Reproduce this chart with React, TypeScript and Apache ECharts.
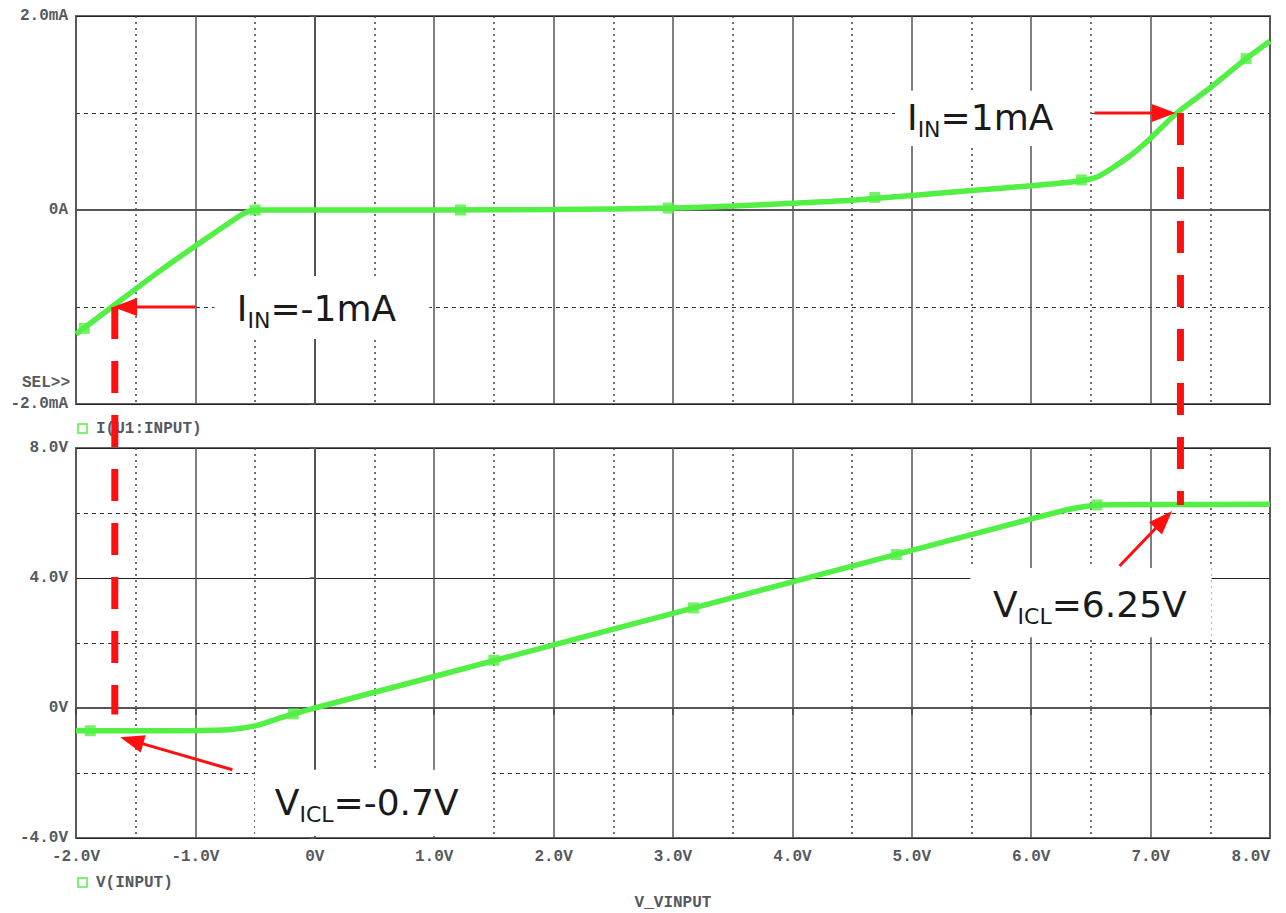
import React, { useEffect, useRef } from "react";
import * as echarts from "echarts";

// ---- data ----
const sweepMin = -2;
const sweepMax = 8;

// Top: I(U1:INPUT) in mA vs V_VINPUT
const iSweep = [-2.0, -1.7, -1.3, -1.0, -0.75, -0.6, -0.5, -0.3, 0, 1, 2, 3, 3.5, 4, 4.5, 5, 5.5, 6, 6.4, 6.55, 6.7, 6.85, 7.0, 7.22, 7.5, 7.8, 8.0];
const iInput = [-1.28, -1.0, -0.63, -0.37, -0.16, -0.04, 0, 0, 0, 0, 0.005, 0.02, 0.04, 0.07, 0.1, 0.15, 0.2, 0.25, 0.3, 0.34, 0.45, 0.58, 0.74, 1.0, 1.26, 1.56, 1.74];
const iMarkV = [-1.93, -0.5, 1.22, 2.96, 4.69, 6.42, 7.8];
const iMarkI = [-1.22, 0, 0, 0.02, 0.13, 0.31, 1.56];

// Bottom: V(INPUT) in V vs V_VINPUT
const vSweep = [-2.0, -1.5, -1.0, -0.7, -0.5, -0.35, -0.18, 0, 1, 2, 3, 4, 5, 6, 6.3, 6.45, 6.6, 7.0, 8.0];
const vInput = [-0.7, -0.7, -0.69, -0.66, -0.55, -0.38, -0.18, 0, 0.97, 1.94, 2.91, 3.88, 4.85, 5.82, 6.1, 6.2, 6.25, 6.26, 6.27];
const vMarkV = [-1.88, -0.18, 1.5, 3.17, 4.87, 6.55];
const vMarkVal = [-0.7, -0.18, 1.47, 3.08, 4.72, 6.25];

// tick labels
const iTicks = [-2, 0, 2];
const vTicks = [-4, 0, 4, 8];

// annotations (data coordinates)
const negCurrentV = -1.675;
const negCurrent = -1;
const negClampEndV = -0.2;
const posCurrentV = 7.25;
const posCurrent = 1;
const posClamp = 6.25;

const GREEN = "#52ef45";
const RED = "#ff1010";
const MONO = "'Liberation Mono', 'DejaVu Sans Mono', monospace";
const SANS = "'DejaVu Sans', Verdana, sans-serif";
const LABEL_COLOR = "#555a60";

const fmtV = (v: number) => (v === 0 ? "0V" : v.toFixed(1) + "V");
const fmtI = (v: number) => (v === 0 ? "0A" : v.toFixed(1) + "mA");

export default function App() {
  const ref = useRef<HTMLDivElement>(null);

  useEffect(() => {
    if (!ref.current) return;
    const chart = echarts.init(ref.current, undefined, { renderer: "svg" });

    const xAxisBase = (gridIndex: number, showLabels: boolean) => ({
      type: "value",
      gridIndex,
      min: sweepMin,
      max: sweepMax,
      interval: 1,
      axisLine: { show: true, lineStyle: { color: "#555", width: 2 } },
      axisTick: { show: showLabels, length: 7, lineStyle: { color: "#444", width: 1.5 } },
      minorTick: { show: showLabels, splitNumber: 2, length: 3, lineStyle: { color: "#444", width: 1.5 } },
      axisLabel: {
        show: showLabels,
        formatter: fmtV,
        fontFamily: MONO,
        fontSize: 16,
        fontWeight: "bold",
        color: LABEL_COLOR,
        margin: 11,
        alignMaxLabel: "right",
      },
      splitLine: { show: true, lineStyle: { color: "#555", width: 1.5 } },
      minorSplitLine: { show: true, lineStyle: { color: "#444", width: 1.5, type: [2, 4] } },
    });

    const yAxisBase = (gridIndex: number, min: number, max: number, interval: number, fmt: (v: number) => string, ticks: number[]) => ({
      type: "value",
      gridIndex,
      min,
      max,
      interval,
      axisLine: { show: true, lineStyle: { color: "#555", width: 2 } },
      axisTick: { show: true, length: 5, lineStyle: { color: "#555", width: 1.5 } },
      minorTick: { show: false, splitNumber: 2 },
      axisLabel: {
        formatter: (v: number) => (ticks.indexOf(v) >= 0 ? fmt(v) : ""),
        fontFamily: MONO,
        fontSize: 16,
        fontWeight: "bold",
        color: LABEL_COLOR,
        margin: 8,
      },
      splitLine: { show: true, lineStyle: { color: "#222", width: 1 } },
      minorSplitLine: { show: true, lineStyle: { color: "#333", width: 1, type: [4, 4] } },
    });

    const option: any = {
      animation: false,
      backgroundColor: "#ffffff",
      grid: [
        { left: 76, right: 16, top: 16, height: 388, show: true, borderColor: "#666", borderWidth: 2, outerBoundsMode: "none" },
        { left: 76, right: 16, top: 448, height: 390, show: true, borderColor: "#666", borderWidth: 2, outerBoundsMode: "none" },
      ],
      xAxis: [xAxisBase(0, false), xAxisBase(1, true)],
      yAxis: [
        yAxisBase(0, -2, 2, 2, fmtI, iTicks),
        yAxisBase(1, -4, 8, 4, fmtV, vTicks),
      ],
      series: [
        {
          type: "line",
          xAxisIndex: 0,
          yAxisIndex: 0,
          data: iSweep.map((x, i) => [x, iInput[i]]),
          showSymbol: false,
          smooth: 0.25,
          lineStyle: { color: GREEN, width: 5.5 },
          z: 3,
        },
        {
          type: "scatter",
          xAxisIndex: 0,
          yAxisIndex: 0,
          data: iMarkV.map((x, i) => [x, iMarkI[i]]),
          symbol: "rect",
          symbolSize: 11,
          itemStyle: { color: GREEN },
          z: 4,
        },
        {
          type: "line",
          xAxisIndex: 1,
          yAxisIndex: 1,
          data: vSweep.map((x, i) => [x, vInput[i]]),
          showSymbol: false,
          smooth: 0.25,
          lineStyle: { color: GREEN, width: 5.5 },
          z: 3,
        },
        {
          type: "scatter",
          xAxisIndex: 1,
          yAxisIndex: 1,
          data: vMarkV.map((x, i) => [x, vMarkVal[i]]),
          symbol: "rect",
          symbolSize: 11,
          itemStyle: { color: GREEN },
          z: 4,
        },
      ],
    };

    chart.setOption(option);

    const px = (g: number, x: number, y: number) => chart.convertToPixel({ gridIndex: g }, [x, y]) as number[];

    const box = (g: number, x0: number, x1: number, y0: number, y1: number) => {
      const a = px(g, x0, y0);
      const b = px(g, x1, y1);
      return {
        type: "rect",
        z: 10,
        shape: { x: Math.min(a[0], b[0]), y: Math.min(a[1], b[1]), width: Math.abs(b[0] - a[0]), height: Math.abs(b[1] - a[1]) },
        style: { fill: "#ffffff" },
      };
    };

    const arrow = (g: number, x0: number, y0: number, x1: number, y1: number) => {
      const p0 = px(g, x0, y0);
      const p1 = px(g, x1, y1);
      const dx = p1[0] - p0[0];
      const dy = p1[1] - p0[1];
      const len = Math.hypot(dx, dy);
      const ux = dx / len;
      const uy = dy / len;
      const hl = 24;
      const hw = 9;
      const bx = p1[0] - ux * hl;
      const by = p1[1] - uy * hl;
      return [
        { type: "line", z: 20, shape: { x1: p0[0], y1: p0[1], x2: bx + ux * 2, y2: by + uy * 2 }, style: { stroke: RED, lineWidth: 3 } },
        {
          type: "polygon",
          z: 20,
          shape: { points: [[p1[0], p1[1]], [bx - uy * hw, by + ux * hw], [bx + uy * hw, by - ux * hw]] },
          style: { fill: RED },
        },
      ];
    };

    const dashed = (xv: number, gTop: number, yTop: number, gBot: number, yBot: number) => {
      const a = px(gTop, xv, yTop);
      const b = px(gBot, xv, yBot);
      return {
        type: "line",
        z: 20,
        shape: { x1: a[0], y1: a[1], x2: b[0], y2: b[1] },
        style: { stroke: RED, lineWidth: 7, lineDash: [32, 22] },
      };
    };

    const richLabel = (g: number, x: number, y: number, main: string, sub: string, rest: string) => {
      const p = px(g, x, y);
      return {
        type: "text",
        z: 15,
        x: p[0],
        y: p[1],
        style: {
          text: `{m|${main}}{s|${sub}}{m|${rest}}`,
          align: "left",
          verticalAlign: "middle",
          rich: {
            m: { fontFamily: SANS, fontSize: 36, lineHeight: 46, fill: "#1a1a1a", verticalAlign: "middle" },
            s: { fontFamily: SANS, fontSize: 22, fill: "#1a1a1a", verticalAlign: "bottom" },
          },
        },
      };
    };

    const monoText = (x: number, y: number, text: string, align: string) => ({
      type: "text",
      z: 15,
      x,
      y,
      style: { text, fontFamily: MONO, fontSize: 16, fontWeight: "bold", fill: LABEL_COLOR, align, verticalAlign: "middle" },
    });

    const legendBox = (x: number, y: number) => ({
      type: "rect",
      z: 15,
      shape: { x, y, width: 9, height: 9 },
      style: { fill: "none", stroke: GREEN, lineWidth: 1.5 },
    });

    const topLeft = px(0, sweepMin, -2);
    const botLeft = px(1, sweepMin, -4);
    const botRight = px(1, sweepMax, -4);

    const graphic: any[] = [
      box(0, -0.84, 0.96, -0.68, -1.33),
      box(0, 4.86, 6.49, 1.23, 0.66),
      box(1, 5.49, 7.51, 4.31, 2.18),
      box(1, -0.5, 1.48, -1.9, -3.94),
      dashed(negCurrentV, 0, negCurrent, 1, negClampEndV),
      dashed(posCurrentV, 0, posCurrent, 1, posClamp),
      ...arrow(0, -1.0, negCurrent, -1.69, negCurrent),
      ...arrow(0, 6.53, posCurrent, 7.21, posCurrent),
      ...arrow(1, 6.74, 4.37, 7.18, 6.06),
      ...arrow(1, -0.69, -1.9, -1.63, -0.9),
      richLabel(0, -0.653, -1.02, "I", "IN", "=-1mA"),
      richLabel(0, 4.96, 0.95, "I", "IN", "=1mA"),
      richLabel(1, 5.68, 3.17, "V", "ICL", "=6.25V"),
      richLabel(1, -0.335, -2.92, "V", "ICL", "=-0.7V"),
      monoText(topLeft[0] - 6, topLeft[1] - 21, "SEL>>", "right"),
      legendBox(topLeft[0] + 2, topLeft[1] + 20),
      monoText(topLeft[0] + 20, topLeft[1] + 25, "I(U1:INPUT)", "left"),
      legendBox(botLeft[0] + 2, botLeft[1] + 40),
      monoText(botLeft[0] + 20, botLeft[1] + 45, "V(INPUT)", "left"),
      monoText((botLeft[0] + botRight[0]) / 2, botLeft[1] + 65, "V_VINPUT", "center"),
    ];

    chart.setOption({ graphic });

    return () => {
      chart.dispose();
    };
  }, []);

  return (
    <div
      ref={ref}
      style={{ position: "fixed", left: 0, top: 0, width: 1286, height: 913, background: "#fff" }}
    />
  );
}
